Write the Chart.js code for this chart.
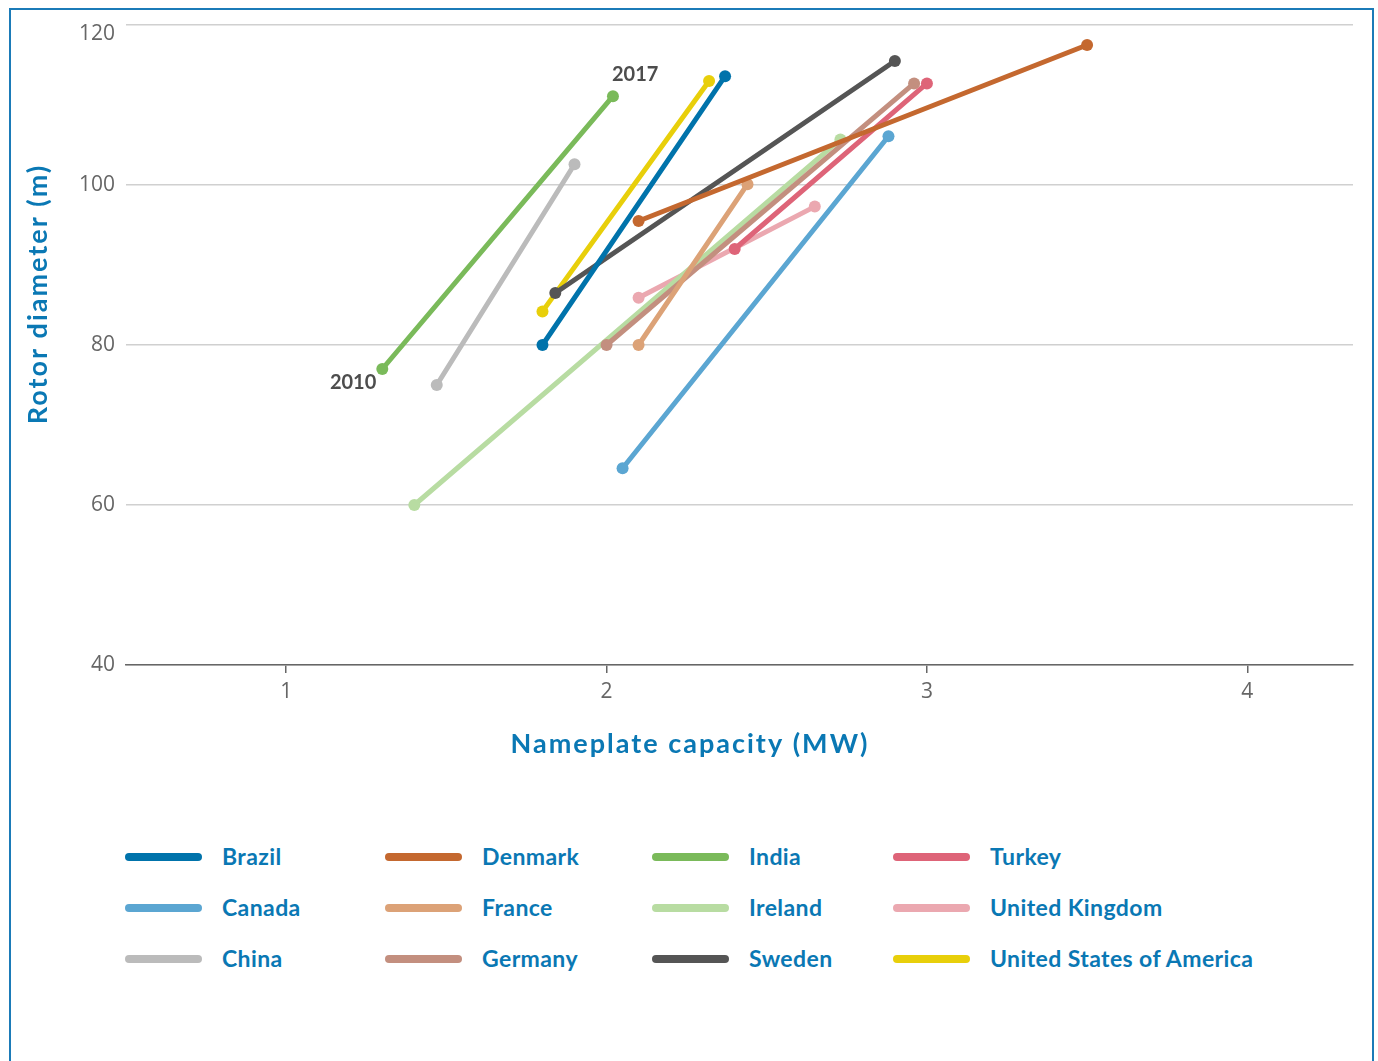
<!DOCTYPE html>
<html>
<head>
<meta charset="utf-8">
<script src="https://cdn.jsdelivr.net/npm/chart.js@4.4.1/dist/chart.umd.min.js"></script>
<style>
  body { margin: 0; background: #fff; }
  #frame { position: absolute; left: 9px; top: 8px; width: 1361px; height: 1100px; border: 2px solid #1b7bb8; border-bottom: none; }
  #chart { position: absolute; left: 0; top: 0; }
  #legend { position: absolute; left: 125px; top: 830px; display: grid; grid-template-columns: 260px 267px 241px auto; grid-template-rows: repeat(3, 51px); grid-auto-flow: column; }
  .item { display: flex; align-items: center; }
  .swatch { width: 77px; height: 8px; border-radius: 4px; margin-right: 20px; margin-top: 2px; }
  .label { color: #0a78b4; font-family: Lato, sans-serif; font-weight: bold; font-size: 23px; letter-spacing: 0.4px; }
</style>
</head>
<body>
<div id="frame"></div>
<canvas id="chart" width="1378" height="800"></canvas>
<div id="legend"></div>
<script>
// Länder und Farben
const countries = ['Brazil', 'Canada', 'China', 'Denmark', 'France', 'Germany',
                   'India', 'Ireland', 'Sweden', 'Turkey', 'United Kingdom', 'United States of America'];
const colors = ['#0073ab', '#5ba6d2', '#bbbbbb', '#c4682f', '#dca277', '#c38f7f',
                '#7aba5a', '#b8dca2', '#555555', '#de6478', '#eba8b0', '#e8cf0a'];

// Werte 2010 und 2017 (MW, m)
const capacity2010 = [1.80, 2.05, 1.47, 2.10, 2.10, 2.00, 1.30, 1.40, 1.84, 2.40, 2.10, 1.80];
const rotor2010    = [80.0, 64.6, 75.0, 95.5, 80.0, 80.0, 77.0, 60.0, 86.5, 92.0, 85.9, 84.2];
const capacity2017 = [2.37, 2.88, 1.90, 3.50, 2.44, 2.96, 2.02, 2.73, 2.90, 3.00, 2.65, 2.32];
const rotor2017    = [113.6, 106.1, 102.6, 117.5, 100.1, 112.7, 111.1, 105.7, 115.5, 112.7, 97.3, 113.0];

const xTicks = [1, 2, 3, 4];
const yTicks = [40, 60, 80, 100, 120];
const xTitle = 'Nameplate capacity (MW)';
const yTitle = 'Rotor diameter (m)';
const startLabel = '2010';
const endLabel = '2017';
const labelIndex = countries.indexOf('India');

const datasets = countries.map((name, i) => ({
    label: name,
    data: [
        { x: capacity2010[i], y: rotor2010[i] },
        { x: capacity2017[i], y: rotor2017[i] }
    ],
    borderColor: colors[i],
    backgroundColor: colors[i],
    pointBackgroundColor: colors[i],
    borderWidth: 5,
    borderCapStyle: 'round',
    pointRadius: 6,
    pointBorderWidth: 0,
    fill: false
}));

// Achsentitel, y-Beschriftung und Jahreszahlen
const textPlugin = {
    id: 'texts',
    afterDatasetsDraw(chart) {
        const { ctx, scales: { x, y } } = chart;
        ctx.save();

        // y-Ticks (oberste Beschriftung rückt in den Plotbereich)
        ctx.fillStyle = '#666';
        ctx.font = '21px "Open Sans", sans-serif';
        ctx.textAlign = 'right';
        ctx.textBaseline = 'middle';
        yTicks.forEach(v => {
            let py = y.getPixelForValue(v);
            if (v === y.max) py += 9;
            ctx.fillText(String(v), y.right - 11, py);
        });

        ctx.fillStyle = '#0a78b4';
        ctx.font = 'bold 27px Lato, sans-serif';
        ctx.letterSpacing = '2px';
        ctx.textAlign = 'center';
        ctx.fillText(xTitle, 690, 744);
        ctx.save();
        ctx.translate(38, 294);
        ctx.rotate(-Math.PI / 2);
        ctx.fillText(yTitle, 0, 0);
        ctx.restore();
        ctx.letterSpacing = '0px';

        ctx.fillStyle = '#4d4d4d';
        ctx.font = 'bold 20px Lato, sans-serif';
        ctx.textAlign = 'right';
        ctx.fillText(startLabel, x.getPixelForValue(capacity2010[labelIndex]) - 6, y.getPixelForValue(rotor2010[labelIndex]) + 14);
        ctx.textAlign = 'left';
        ctx.fillText(endLabel, x.getPixelForValue(capacity2017[labelIndex]) - 1, y.getPixelForValue(rotor2017[labelIndex]) - 22);
        ctx.restore();
    }
};

new Chart(document.getElementById('chart'), {
    type: 'line',
    data: { datasets: datasets },
    options: {
        responsive: false,
        animation: false,
        layout: { padding: { top: 25, right: 25, left: 0, bottom: 0 } },
        scales: {
            x: {
                type: 'linear',
                min: 0.5,
                max: 4.33,
                afterBuildTicks: s => { s.ticks = xTicks.map(v => ({ value: v })); },
                afterFit: s => { s.height = 135; },
                grid: { drawOnChartArea: false, drawTicks: true, tickLength: 8, color: '#666', lineWidth: 1.5 },
                border: { display: true, color: '#666', width: 1.5 },
                ticks: { color: '#666', padding: 6, font: { family: 'Open Sans', size: 21 } }
            },
            y: {
                min: 40,
                max: 120,
                afterBuildTicks: s => { s.ticks = yTicks.map(v => ({ value: v })); },
                afterFit: s => { s.width = 126; },
                grid: { color: '#d0d0d0', lineWidth: 1.5, drawTicks: false },
                border: { display: false },
                ticks: { display: false }
            }
        },
        plugins: {
            legend: { display: false },
            tooltip: { enabled: false }
        }
    },
    plugins: [textPlugin]
});

// Legende spaltenweise
const legend = document.getElementById('legend');
countries.forEach((name, i) => {
    const item = document.createElement('div');
    item.className = 'item';
    item.innerHTML = `<div class="swatch" style="background:${colors[i]}"></div><span class="label">${name}</span>`;
    legend.appendChild(item);
});
</script>
</body>
</html>
